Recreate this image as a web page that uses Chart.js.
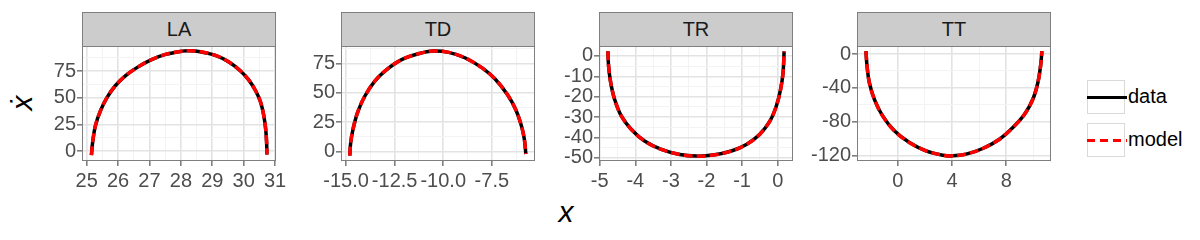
<!DOCTYPE html>
<html>
<head>
<meta charset="utf-8">
<script src="https://cdn.jsdelivr.net/npm/chart.js@4/dist/chart.umd.min.js"></script>
<style>
  body { margin: 0; background: #fff; width: 1200px; height: 240px; position: relative; overflow: hidden;
         font-family: "Liberation Sans", Arial, sans-serif; }
  .strip { position: absolute; top: 12px; width: 194px; height: 35px; box-sizing: border-box;
           background: #cccccc; border: 1px solid #7f7f7f; color: #1a1a1a; font-size: 20px;
           text-align: center; line-height: 33px; }
  canvas.panel { position: absolute; top: 46px; }
  .key { position: absolute; left: 1087px; width: 38px; height: 34px; box-sizing: border-box;
         border: 1px solid #d9d9d9; background: #fff; }
  .keyline { position: absolute; left: 1087px; width: 40px; height: 3px; }
  .keytext { position: absolute; left: 1128px; font-size: 20px; line-height: 22px; color: #000; }
  .title { position: absolute; font-style: italic; font-size: 30px; line-height: 30px; color: #000; white-space: nowrap; }
</style>
</head>
<body>
<div class="title" style="left:566px;top:197px;transform:translateX(-50%)">x</div>
<div class="title" style="left:22px;top:103px;transform:translate(-50%,-50%) rotate(-90deg)">ẋ</div>

<div class="key" style="top:80px"></div>
<div class="keyline" style="top:96px;background:#000"></div>
<div class="keytext" style="top:85px">data</div>
<div class="key" style="top:123px"></div>
<div class="keyline" style="top:139px;background:repeating-linear-gradient(to right,#ff0000 0 8px,transparent 8px 13px)"></div>
<div class="keytext" style="top:128px">model</div>

<script>
// panel names
const panels = ['LA', 'TD', 'TR', 'TT'];

// LA: position x and velocity x-dot
const laX = [25.15, 25.19, 25.28, 25.44, 25.65, 25.91, 26.23, 26.60, 27.03, 27.51, 28.04, 28.25,
             28.57, 29.10, 29.53, 29.90, 30.16, 30.38, 30.54, 30.64, 30.70, 30.73, 30.74];
const laV = [-3.7, 8.7, 24.2, 38.1, 50.5, 61.4, 70.7, 78.4, 85.5, 90.8, 93.9, 94.2,
             93.6, 89.9, 83.7, 75.3, 66.9, 56.7, 45.9, 33.5, 21.1, 8.7, -3.1];

// TD
const tdX = [-14.81, -14.76, -14.64, -14.41, -14.03, -13.52, -12.91, -12.14, -11.28, -10.50,
             -9.72, -8.86, -8.00, -7.31, -6.71, -6.28, -5.98, -5.83, -5.75];
const tdV = [-3.4, 7.9, 19.2, 33.3, 47.4, 60.1, 69.9, 78.4, 83.4, 85.7,
             84.6, 79.8, 71.3, 61.5, 48.8, 36.1, 22, 10.7, -2];

// TR
const trX = [-4.77, -4.75, -4.69, -4.58, -4.39, -4.11, -3.74, -3.27, -2.75, -2.28,
             -1.82, -1.30, -0.88, -0.51, -0.22, -0.04, 0.08, 0.15, 0.18];
const trV = [2.3, -5.1, -13.2, -21.4, -29.6, -36.1, -41.8, -45.9, -48.4, -49.2,
             -48.7, -46.7, -43.5, -38.6, -32.0, -24.7, -16.5, -8.3, 2.3];

// TT
const ttX = [-2.34, -2.26, -2.09, -1.72, -1.11, -0.25, 0.86, 2.09, 3.32, 4.06,
             5.04, 6.27, 7.50, 8.49, 9.35, 9.96, 10.33, 10.53, 10.63];
const ttV = [3.5, -14.2, -33.9, -53.5, -73.2, -90.9, -104.7, -114.6, -119.7, -120.5,
             -118.5, -111.8, -100.8, -87, -71.3, -53.5, -33.9, -14.2, 3.5];

// tick values and labels
const laXTicks = [25, 26, 27, 28, 29, 30, 31];
const laXLabels = ['25', '26', '27', '28', '29', '30', '31'];
const laYTicks = [0, 25, 50, 75];
const laYLabels = ['0', '25', '50', '75'];
const tdXTicks = [-15, -12.5, -10, -7.5];
const tdXLabels = ['-15.0', '-12.5', '-10.0', '-7.5'];
const tdYTicks = [0, 25, 50, 75];
const tdYLabels = ['0', '25', '50', '75'];
const trXTicks = [-5, -4, -3, -2, -1, 0];
const trXLabels = ['-5', '-4', '-3', '-2', '-1', '0'];
const trYTicks = [-50, -40, -30, -20, -10, 0];
const trYLabels = ['-50', '-40', '-30', '-20', '-10', '0'];
const ttXTicks = [0, 4, 8];
const ttXLabels = ['0', '4', '8'];
const ttYTicks = [-120, -80, -40, 0];
const ttYLabels = ['-120', '-80', '-40', '0'];

const setup = [
  { x: laX, v: laV, xr: [24.85, 31.03], yr: [-9.2, 98.7], xt: laXTicks, xl: laXLabels, yt: laYTicks, yl: laYLabels, left: 82 },
  { x: tdX, v: tdV, xr: [-15.26, -5.28], yr: [-8.0, 90.0], xt: tdXTicks, xl: tdXLabels, yt: tdYTicks, yl: tdYLabels, left: 341 },
  { x: trX, v: trV, xr: [-5.02, 0.43], yr: [-51.6, 4.9], xt: trXTicks, xl: trXLabels, yt: trYTicks, yl: trYLabels, left: 599 },
  { x: ttX, v: ttV, xr: [-3.0, 11.3], yr: [-126.6, 9.6], xt: ttXTicks, xl: ttXLabels, yt: ttYTicks, yl: ttYLabels, left: 857 },
];

const frame = {
  id: 'frame',
  afterDraw(chart) {
    const { ctx, chartArea: a } = chart;
    ctx.save();
    ctx.strokeStyle = '#7f7f7f';
    ctx.lineWidth = 1;
    ctx.strokeRect(Math.round(a.left) + 0.5, Math.round(a.top) + 0.5, Math.round(a.width) - 1, Math.round(a.height) - 1);
    ctx.restore();
  },
};

function axis(range, majors, labels, isX) {
  const [min, max] = range;
  const step = majors[1] - majors[0];
  const minors = [];
  for (let v = majors[0] - step * 1.5; v <= max; v += step) {
    if (v >= min) minors.push(v);
  }
  const all = majors.concat(minors).filter((v) => v >= min && v <= max).sort((a, b) => a - b);
  const major = (v) => majors.indexOf(v) >= 0;
  return {
    type: 'linear',
    position: isX ? 'bottom' : 'left',
    min,
    max,
    afterBuildTicks: (s) => { s.ticks = all.map((v) => ({ value: v })); },
    afterFit: (s) => {
      if (isX) { s.height = 45; s.paddingLeft = 0; s.paddingRight = 0; }
      else { s.width = 60; s.paddingTop = 0; s.paddingBottom = 0; }
    },
    ticks: {
      autoSkip: false,
      maxRotation: 0,
      padding: isX ? 3 : 1,
      color: '#4d4d4d',
      font: { size: 20, family: '"Liberation Sans", Arial, sans-serif' },
      callback: (v) => (major(v) ? labels[majors.indexOf(v)] : ''),
    },
    grid: {
      color: (c) => (major(c.tick.value) ? '#e3e3e3' : '#f3f3f3'),
      lineWidth: (c) => (major(c.tick.value) ? 1.6 : 1),
      tickLength: 5,
      tickColor: (c) => (major(c.tick.value) ? '#7f7f7f' : 'rgba(0,0,0,0)'),
      drawTicks: true,
    },
    border: { display: false },
  };
}

setup.forEach((p, i) => {
  const strip = document.createElement('div');
  strip.className = 'strip';
  strip.style.left = p.left + 'px';
  strip.textContent = panels[i];
  document.body.appendChild(strip);

  const canvas = document.createElement('canvas');
  canvas.className = 'panel';
  canvas.width = 270;
  canvas.height = 160;
  canvas.style.left = (p.left - 60) + 'px';
  document.body.appendChild(canvas);

  const dataPts = p.x.map((x, k) => ({ x, y: p.v[k] }));
  const modelPts = p.x.map((x, k) => ({ x, y: p.v[k] }));

  new Chart(canvas, {
    type: 'scatter',
    data: {
      datasets: [
        {
          label: 'data',
          data: dataPts,
          order: 2,
          showLine: true,
          borderColor: '#000000',
          borderWidth: 3.5,
          pointRadius: 0,
          tension: 0.35,
        },
        {
          label: 'model',
          data: modelPts,
          order: 1,
          showLine: true,
          borderColor: '#ff0000',
          borderWidth: 3.5,
          borderDash: [9, 4],
          pointRadius: 0,
          tension: 0.35,
        },
      ],
    },
    options: {
      responsive: false,
      animation: false,
      layout: { padding: { left: 0, top: 0, right: 16, bottom: 0 } },
      plugins: { legend: { display: false }, tooltip: { enabled: false } },
      scales: {
        x: axis(p.xr, p.xt, p.xl, true),
        y: axis(p.yr, p.yt, p.yl, false),
      },
    },
    plugins: [frame],
  });
});
</script>
</body>
</html>
